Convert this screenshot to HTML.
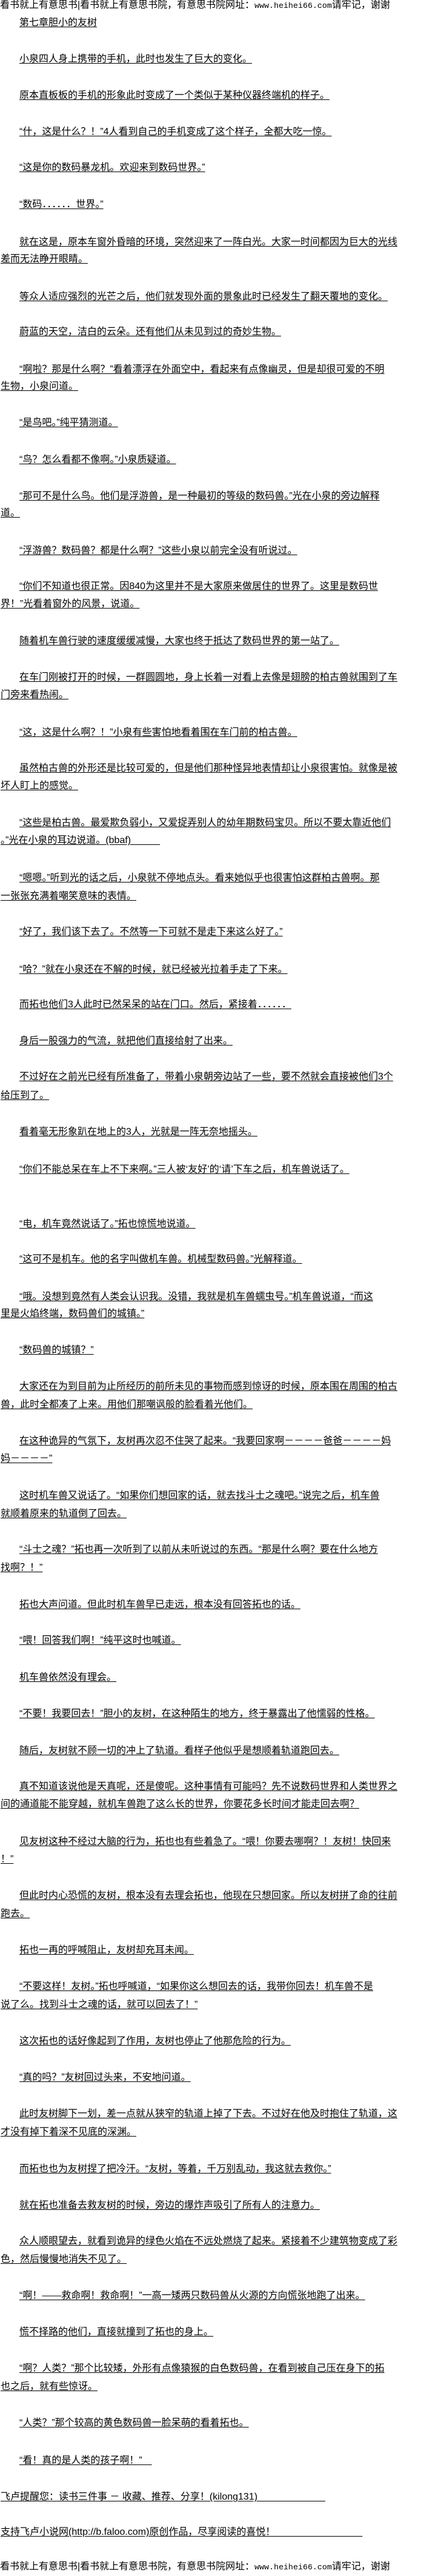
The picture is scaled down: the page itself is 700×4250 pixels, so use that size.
<!DOCTYPE html>
<html><head><meta charset="utf-8">
<style>
html,body{margin:0;padding:0;background:#fff;}
body{width:700px;height:4250px;position:relative;overflow:hidden;font-family:"Liberation Sans","Noto Sans CJK SC","WenQuanYi Zen Hei",sans-serif;color:#000;}
.l{position:absolute;left:32px;white-space:nowrap;font-size:16px;line-height:20px;height:20px;text-decoration:underline;text-underline-offset:2px;}
.w{left:1px;}
.h{position:absolute;left:0;white-space:nowrap;font-size:16px;line-height:20px;}
.m{font-family:"Liberation Mono",monospace;font-size:13.3px;}
</style></head><body>
<div class="h" style="top:-1px">看书就上有意思书|看书就上有意思书院，有意思书院网址：<span class="m">www.heihei66.com</span>请牢记，谢谢</div>
<div class="l" style="top:28px">第七章胆小的友树</div>
<div class="l" style="top:88px">小泉四人身上携带的手机，此时也发生了巨大的变化。</div>
<div class="l" style="top:148px">原本直板板的手机的形象此时变成了一个类似于某种仪器终端机的样子。</div>
<div class="l" style="top:208px">“什，这是什么？！”4人看到自己的手机变成了这个样子，全都大吃一惊。</div>
<div class="l" style="top:267px">“这是你的数码暴龙机。欢迎来到数码世界。”</div>
<div class="l" style="top:328px">“数码．．．．．．世界。”</div>
<div class="l" style="top:390px">就在这是，原本车窗外昏暗的环境，突然迎来了一阵白光。大家一时间都因为巨大的光线</div>
<div class="l w" style="top:418px">差而无法睁开眼睛。</div>
<div class="l" style="top:480px">等众人适应强烈的光芒之后，他们就发现外面的景象此时已经发生了翻天覆地的变化。</div>
<div class="l" style="top:538px">蔚蓝的天空，洁白的云朵。还有他们从未见到过的奇妙生物。</div>
<div class="l" style="top:600px">“啊啦？那是什么啊？”看着漂浮在外面空中，看起来有点像幽灵，但是却很可爱的不明</div>
<div class="l w" style="top:628px">生物，小泉问道。</div>
<div class="l" style="top:688px">“是鸟吧。”纯平猜测道。</div>
<div class="l" style="top:749px">“鸟？怎么看都不像啊。”小泉质疑道。</div>
<div class="l" style="top:809px">“那可不是什么鸟。他们是浮游兽，是一种最初的等级的数码兽。”光在小泉的旁边解释</div>
<div class="l w" style="top:837px">道。</div>
<div class="l" style="top:899px">“浮游兽？数码兽？都是什么啊？”这些小泉以前完全没有听说过。</div>
<div class="l" style="top:958px">“你们不知道也很正常。因840为这里并不是大家原来做居住的世界了。这里是数码世</div>
<div class="l w" style="top:987px">界！”光看着窗外的风景，说道。</div>
<div class="l" style="top:1048px">随着机车兽行驶的速度缓缓减慢，大家也终于抵达了数码世界的第一站了。</div>
<div class="l" style="top:1108px">在车门刚被打开的时候，一群圆圆地，身上长着一对看上去像是翅膀的柏古兽就围到了车</div>
<div class="l w" style="top:1137px">门旁来看热闹。</div>
<div class="l" style="top:1199px">“这，这是什么啊？！”小泉有些害怕地看着围在车门前的柏古兽。</div>
<div class="l" style="top:1258px">虽然柏古兽的外形还是比较可爱的，但是他们那种怪异地表情却让小泉很害怕。就像是被</div>
<div class="l w" style="top:1287px">坏人盯上的感觉。</div>
<div class="l" style="top:1348px">“这些是柏古兽。最爱欺负弱小，又爱捉弄别人的幼年期数码宝贝。所以不要太靠近他们</div>
<div class="l w" style="top:1377px">。”光在小泉的耳边说道。(bbaf)　　　</div>
<div class="l" style="top:1439px">“嗯嗯。”听到光的话之后，小泉就不停地点头。看来她似乎也很害怕这群柏古兽啊。那</div>
<div class="l w" style="top:1469px">一张张充满着嘲笑意味的表情。</div>
<div class="l" style="top:1528px">“好了，我们该下去了。不然等一下可就不是走下来这么好了。”</div>
<div class="l" style="top:1590px">“哈？”就在小泉还在不解的时候，就已经被光拉着手走了下来。</div>
<div class="l" style="top:1648px">而拓也他们3人此时已然呆呆的站在门口。然后，紧接着．．．．．．</div>
<div class="l" style="top:1708px">身后一股强力的气流，就把他们直接给射了出来。</div>
<div class="l" style="top:1767px">不过好在之前光已经有所准备了，带着小泉朝旁边站了一些，要不然就会直接被他们3个</div>
<div class="l w" style="top:1798px">给压到了。</div>
<div class="l" style="top:1858px">看着毫无形象趴在地上的3人，光就是一阵无奈地摇头。</div>
<div class="l" style="top:1920px">“你们不能总呆在车上不下来啊。”三人被‘友好’的‘请’下车之后，机车兽说话了。</div>
<div class="l" style="top:2010px">“电，机车竟然说话了。”拓也惊慌地说道。</div>
<div class="l" style="top:2068px">“这可不是机车。他的名字叫做机车兽。机械型数码兽。”光解释道。</div>
<div class="l" style="top:2130px">“哦。没想到竟然有人类会认识我。没错，我就是机车兽蠕虫号。”机车兽说道，“而这</div>
<div class="l w" style="top:2158px">里是火焰终端，数码兽们的城镇。”</div>
<div class="l" style="top:2218px">“数码兽的城镇？”</div>
<div class="l" style="top:2278px">大家还在为到目前为止所经历的前所未见的事物而感到惊讶的时候，原本围在周围的柏古</div>
<div class="l w" style="top:2308px">兽，此时全都凑了上来。用他们那嘲讽般的脸看着光他们。</div>
<div class="l" style="top:2368px">在这种诡异的气氛下，友树再次忍不住哭了起来。“我要回家啊－－－－爸爸－－－－妈</div>
<div class="l w" style="top:2397px">妈－－－－”</div>
<div class="l" style="top:2458px">这时机车兽又说话了。“如果你们想回家的话，就去找斗士之魂吧。”说完之后，机车兽</div>
<div class="l w" style="top:2488px">就顺着原来的轨道倒了回去。</div>
<div class="l" style="top:2547px">“斗士之魂？”拓也再一次听到了以前从未听说过的东西。“那是什么啊？要在什么地方</div>
<div class="l w" style="top:2577px">找啊？！”</div>
<div class="l" style="top:2638px">拓也大声问道。但此时机车兽早已走远，根本没有回答拓也的话。</div>
<div class="l" style="top:2697px">“喂！回答我们啊！”纯平这时也喊道。</div>
<div class="l" style="top:2758px">机车兽依然没有理会。</div>
<div class="l" style="top:2818px">“不要！我要回去！”胆小的友树，在这种陌生的地方，终于暴露出了他懦弱的性格。</div>
<div class="l" style="top:2879px">随后，友树就不顾一切的冲上了轨道。看样子他似乎是想顺着轨道跑回去。</div>
<div class="l" style="top:2938px">真不知道该说他是天真呢，还是傻呢。这种事情有可能吗？先不说数码世界和人类世界之</div>
<div class="l w" style="top:2967px">间的通道能不能穿越，就机车兽跑了这么长的世界，你要花多长时间才能走回去啊？</div>
<div class="l" style="top:3029px">见友树这种不经过大脑的行为，拓也也有些着急了。“喂！你要去哪啊？！友树！快回来</div>
<div class="l w" style="top:3058px">！”</div>
<div class="l" style="top:3118px">但此时内心恐慌的友树，根本没有去理会拓也，他现在只想回家。所以友树拼了命的往前</div>
<div class="l w" style="top:3148px">跑去。</div>
<div class="l" style="top:3208px">拓也一再的呼喊阻止，友树却充耳未闻。</div>
<div class="l" style="top:3268px">“不要这样！友树。”拓也呼喊道，“如果你这么想回去的话，我带你回去！机车兽不是</div>
<div class="l w" style="top:3298px">说了么。找到斗士之魂的话，就可以回去了！”</div>
<div class="l" style="top:3358px">这次拓也的话好像起到了作用，友树也停止了他那危险的行为。</div>
<div class="l" style="top:3418px">“真的吗？”友树回过头来，不安地问道。</div>
<div class="l" style="top:3478px">此时友树脚下一划，差一点就从狭窄的轨道上掉了下去。不过好在他及时抱住了轨道，这</div>
<div class="l w" style="top:3508px">才没有掉下着深不见底的深渊。</div>
<div class="l" style="top:3569px">而拓也也为友树捏了把冷汗。“友树，等着，千万别乱动，我这就去救你。”</div>
<div class="l" style="top:3629px">就在拓也准备去救友树的时候，旁边的爆炸声吸引了所有人的注意力。</div>
<div class="l" style="top:3688px">众人顺眼望去，就看到诡异的绿色火焰在不远处燃烧了起来。紧接着不少建筑物变成了彩</div>
<div class="l w" style="top:3718px">色，然后慢慢地消失不见了。</div>
<div class="l" style="top:3778px">“啊！——救命啊！救命啊！”一高一矮两只数码兽从火源的方向慌张地跑了出来。</div>
<div class="l" style="top:3838px">慌不择路的他们，直接就撞到了拓也的身上。</div>
<div class="l" style="top:3898px">“啊？人类？”那个比较矮，外形有点像猿猴的白色数码兽，在看到被自己压在身下的拓</div>
<div class="l w" style="top:3928px">也之后，就有些惊讶。</div>
<div class="l" style="top:3988px">“人类？”那个较高的黄色数码兽一脸呆萌的看着拓也。</div>
<div class="l" style="top:4050px">“看！真的是人类的孩子啊！”　</div>
<div class="l w" style="top:4110px">飞卢提醒您：读书三件事 － 收藏、推荐、分享！(kilong131)　　　　　　　</div>
<div class="l w" style="top:4168px">支持飞卢小说网(http://b.faloo.com)原创作品，尽享阅读的喜悦！　　　　　　　　　</div>
<div class="h" style="top:4225px">看书就上有意思书|看书就上有意思书院，有意思书院网址：<span class="m">www.heihei66.com</span>请牢记，谢谢</div>
</body></html>
